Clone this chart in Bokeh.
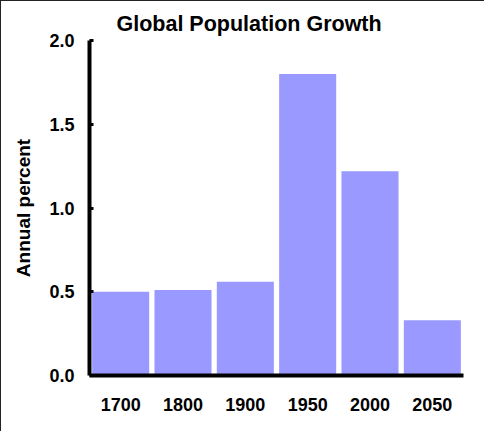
from bokeh.plotting import figure
from bokeh.models import FactorRange, Range1d, FixedTicker, NumeralTickFormatter, Title, ColumnDataSource
from bokeh.embed import file_html
from bokeh.resources import INLINE

years = ["1700", "1800", "1900", "1950", "2000", "2050"]
growth = [0.50, 0.51, 0.56, 1.80, 1.22, 0.33]
y_ticks = [0.0, 0.5, 1.0, 1.5, 2.0]

FONT = "Liberation Sans"

src = ColumnDataSource(dict(year=years, growth=growth))

p = figure(
    x_range=FactorRange(*years, range_padding=0),
    y_range=Range1d(0, 2.0),
    width=484, height=431,
    output_backend="svg", toolbar_location=None,
    min_border_left=88, min_border_right=22, min_border_top=39, min_border_bottom=57,
    title=None,
)
p.styles = {"border-top": "1px solid #222222", "border-left": "1px solid #222222"}

p.vbar(x="year", top="growth", width=0.915, source=src,
       fill_color="#9999FF", line_color=None)

t = Title(text="Global Population Growth", align="left", offset=27,
          text_font=FONT, text_font_size="21.5px", text_font_style="bold",
          text_color="black", standoff=9)
p.add_layout(t, "above")

p.outline_line_color = None
p.xgrid.grid_line_color = None
p.ygrid.grid_line_color = None
p.background_fill_color = "white"
p.border_fill_color = "white"

# y axis
ya = p.yaxis[0]
ya.ticker = FixedTicker(ticks=y_ticks)
ya.formatter = NumeralTickFormatter(format="0.0")
ya.axis_line_width = 4
ya.axis_line_color = "black"
ya.major_tick_in = 4
ya.major_tick_out = 0
ya.major_tick_line_width = 3
ya.major_tick_line_color = "black"
ya.minor_tick_line_color = None
ya.major_label_text_font = FONT
ya.major_label_text_font_size = "18px"
ya.major_label_text_font_style = "bold"
ya.major_label_text_color = "black"
ya.major_label_standoff = 15
ya.axis_label = "Annual percent"
ya.axis_label_text_font = FONT
ya.axis_label_text_font_size = "19px"
ya.axis_label_text_font_style = "bold"
ya.axis_label_text_color = "black"
ya.axis_label_standoff = 12

# x axis
xa = p.xaxis[0]
xa.axis_line_width = 4
xa.axis_line_color = "black"
xa.major_tick_line_color = None
xa.minor_tick_line_color = None
xa.major_tick_in = 0
xa.major_tick_out = 0
xa.major_label_text_font = FONT
xa.major_label_text_font_size = "18px"
xa.major_label_text_font_style = "bold"
xa.major_label_text_color = "black"
xa.major_label_standoff = 22

open("out.html", "w").write(file_html(p, INLINE))
